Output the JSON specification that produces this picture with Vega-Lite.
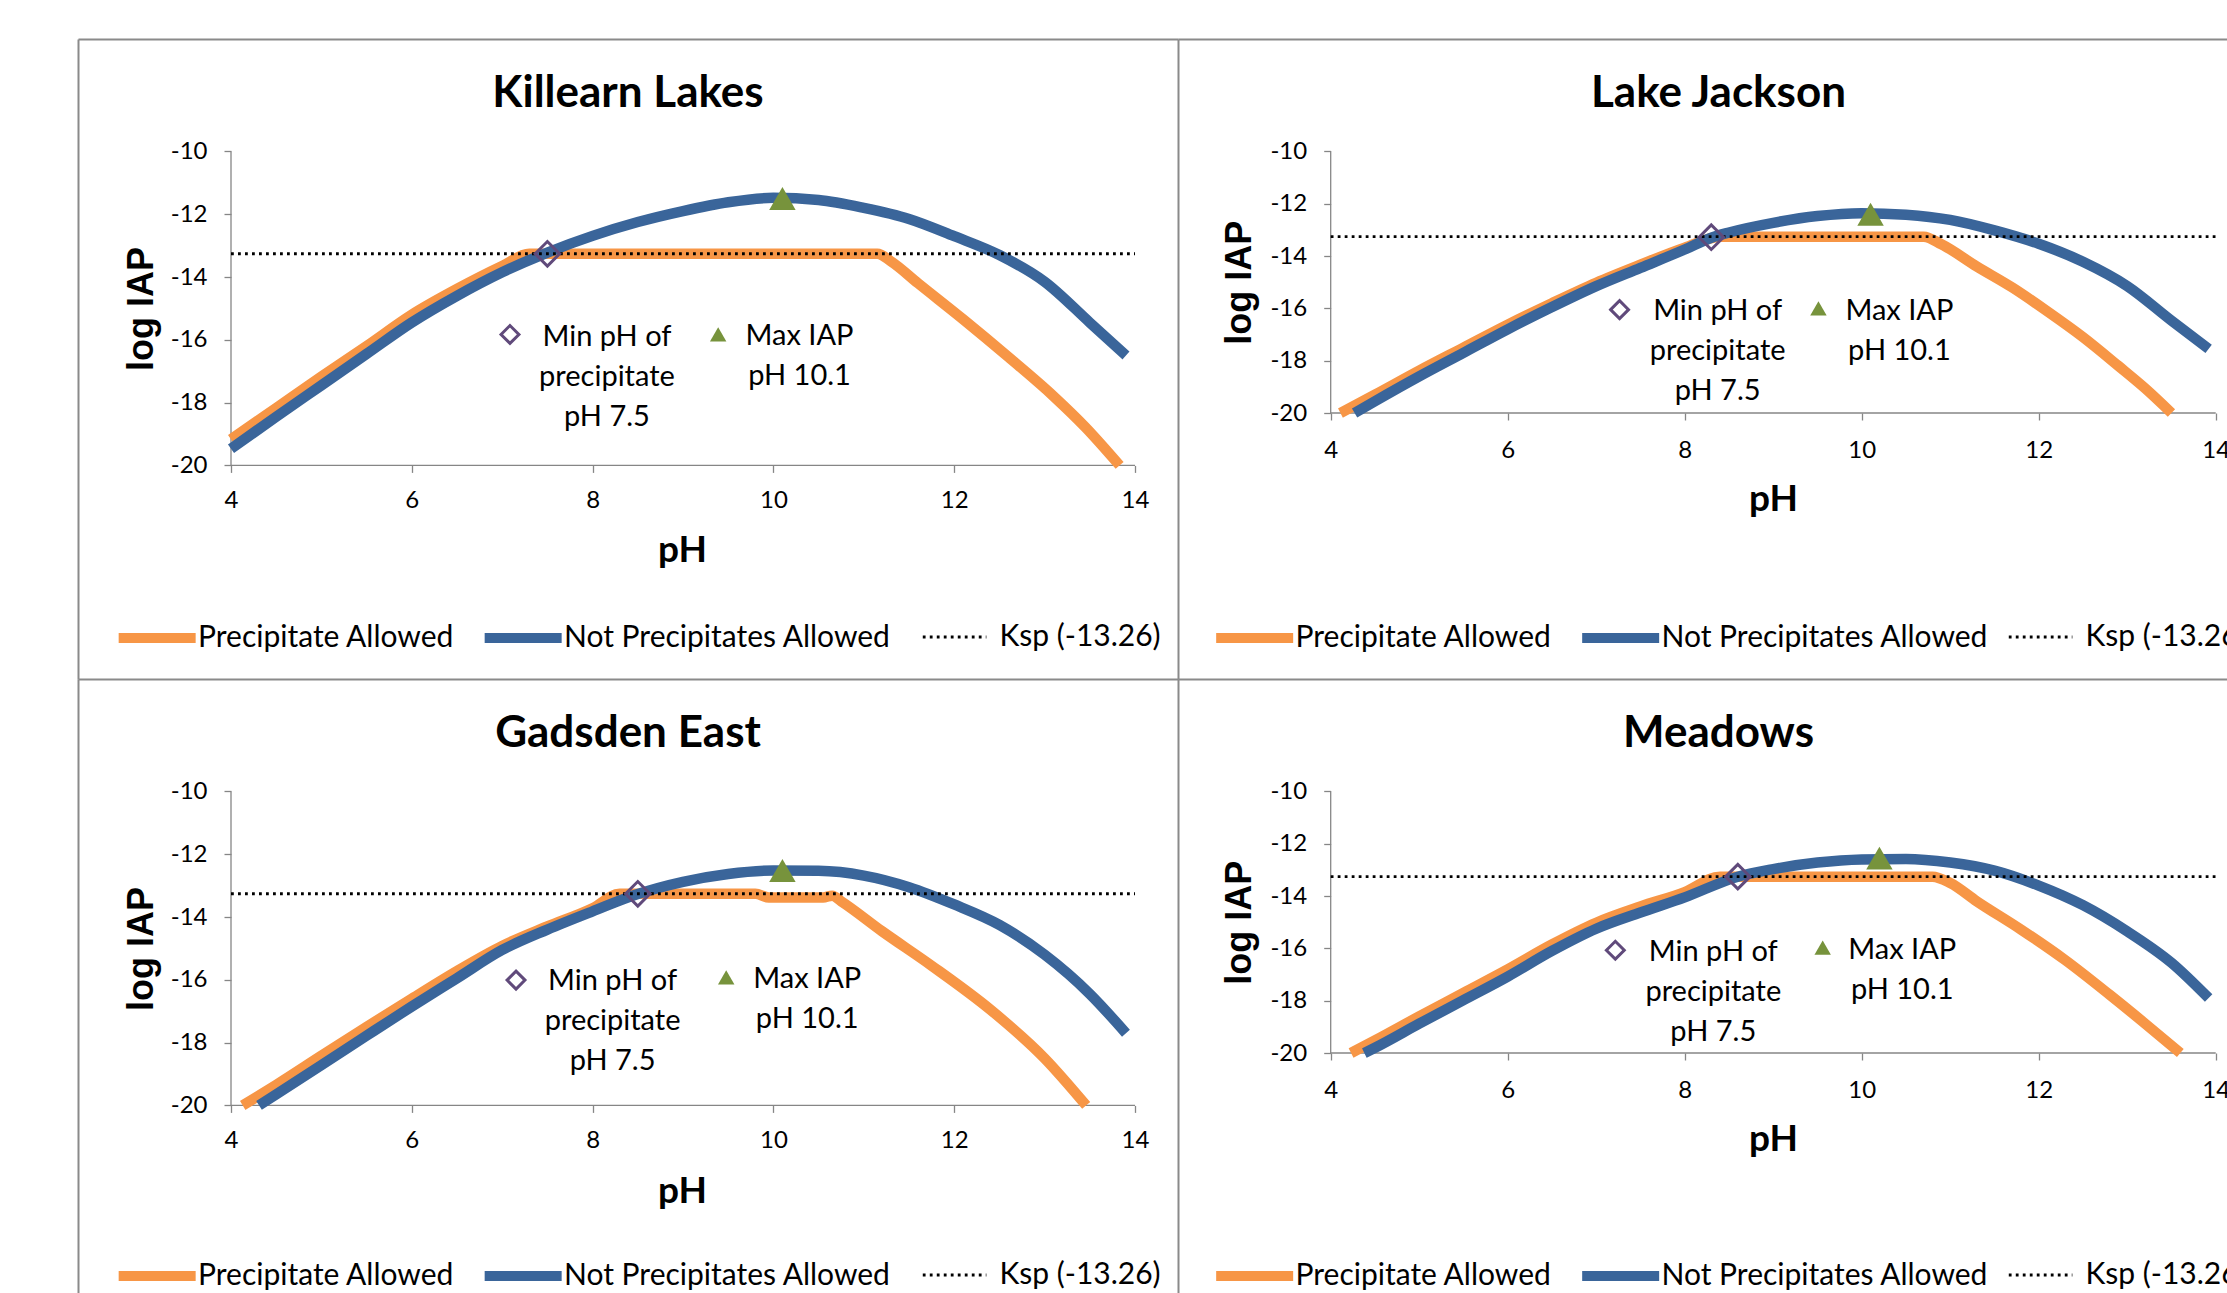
{
  "$schema": "https://vega.github.io/schema/vega-lite/v6.json",
  "padding": {"left": 78, "top": 39, "right": 0, "bottom": 0},
  "background": "white",
  "config": {
    "view": {"stroke": null},
    "font": "Lato",
    "title": {"font": "Lato", "fontSize": 44, "fontWeight": "bold", "color": "#000000", "anchor": "middle", "frame": "group", "baseline": "alphabetic", "offset": -77},
    "axis": {"grid": false, "domain": false, "labelFont": "Lato", "labelFontSize": 24, "labelColor": "#000000", "tickColor": "#868686", "tickSize": 7, "tickWidth": 1.3, "titleFont": "Lato", "titleFontSize": 37, "titleFontWeight": "bold", "titleColor": "#000000", "labelFlush": false, "labelOverlap": false},
    "axisY": {"titleFont": "Liberation Sans", "titleFontSize": 36},
    "legend": {"orient": "none", "direction": "horizontal", "labelFont": "Lato", "labelFontSize": 30, "labelColor": "#000000", "labelLimit": 600, "symbolType": "M-1,0H5", "symbolSize": 658.6, "symbolStrokeWidth": 10, "columnPadding": 10, "labelOffset": 48.5, "padding": 0}
  },
  "datasets": {
    "axisLines": [
      {"pH": 4, "pH2": 14, "logIAP": -20, "logIAP2": -20},
      {"pH": 4, "pH2": 4, "logIAP": -20, "logIAP2": -10}
    ],
    "ksp": [
      {"series": "Ksp (-13.26)", "pH": 4, "logIAP": -13.26},
      {"series": "Ksp (-13.26)", "pH": 14, "logIAP": -13.26}
    ],
    "markers": [
      {"lake": "Killearn Lakes", "marker": "Min pH of precipitate", "pH": 7.5, "logIAP": -13.26},
      {"lake": "Killearn Lakes", "marker": "Max IAP", "pH": 10.1, "logIAP": -11.5},
      {"lake": "Lake Jackson", "marker": "Min pH of precipitate", "pH": 8.3, "logIAP": -13.28},
      {"lake": "Lake Jackson", "marker": "Max IAP", "pH": 10.1, "logIAP": -12.4},
      {"lake": "Gadsden East", "marker": "Min pH of precipitate", "pH": 8.5, "logIAP": -13.26},
      {"lake": "Gadsden East", "marker": "Max IAP", "pH": 10.1, "logIAP": -12.52},
      {"lake": "Meadows", "marker": "Min pH of precipitate", "pH": 8.6, "logIAP": -13.26},
      {"lake": "Meadows", "marker": "Max IAP", "pH": 10.2, "logIAP": -12.55}
    ],
    "keys": [
      {"lake": "Killearn Lakes", "marker": "Min pH of precipitate", "symbolPH": 7.086, "symbolLogIAP": -15.83, "textPH": 8.159, "textLogIAP": -16.19, "label": "Min pH of\nprecipitate\npH 7.5"},
      {"lake": "Killearn Lakes", "marker": "Max IAP", "symbolPH": 9.389, "symbolLogIAP": -15.83, "textPH": 10.289, "textLogIAP": -16.16, "label": "Max IAP\npH 10.1"},
      {"lake": "Lake Jackson", "marker": "Min pH of precipitate", "symbolPH": 7.264, "symbolLogIAP": -16.05, "textPH": 8.372, "textLogIAP": -16.45, "label": "Min pH of\nprecipitate\npH 7.5"},
      {"lake": "Lake Jackson", "marker": "Max IAP", "symbolPH": 9.511, "symbolLogIAP": -16.0, "textPH": 10.426, "textLogIAP": -16.45, "label": "Max IAP\npH 10.1"},
      {"lake": "Gadsden East", "marker": "Min pH of precipitate", "symbolPH": 7.153, "symbolLogIAP": -16.01, "textPH": 8.221, "textLogIAP": -16.34, "label": "Min pH of\nprecipitate\npH 7.5"},
      {"lake": "Gadsden East", "marker": "Max IAP", "symbolPH": 9.478, "symbolLogIAP": -15.92, "textPH": 10.374, "textLogIAP": -16.25, "label": "Max IAP\npH 10.1"},
      {"lake": "Meadows", "marker": "Min pH of precipitate", "symbolPH": 7.216, "symbolLogIAP": -16.07, "textPH": 8.323, "textLogIAP": -16.47, "label": "Min pH of\nprecipitate\npH 7.5"},
      {"lake": "Meadows", "marker": "Max IAP", "symbolPH": 9.559, "symbolLogIAP": -15.97, "textPH": 10.458, "textLogIAP": -16.42, "label": "Max IAP\npH 10.1"}
    ],
    "curves": [
      {"lake": "Killearn Lakes", "series": "Precipitate Allowed", "pH": 4.0, "logIAP": -19.17},
      {"lake": "Killearn Lakes", "series": "Precipitate Allowed", "pH": 4.5, "logIAP": -18.17},
      {"lake": "Killearn Lakes", "series": "Precipitate Allowed", "pH": 5.0, "logIAP": -17.17},
      {"lake": "Killearn Lakes", "series": "Precipitate Allowed", "pH": 5.5, "logIAP": -16.2},
      {"lake": "Killearn Lakes", "series": "Precipitate Allowed", "pH": 6.0, "logIAP": -15.2},
      {"lake": "Killearn Lakes", "series": "Precipitate Allowed", "pH": 6.5, "logIAP": -14.38},
      {"lake": "Killearn Lakes", "series": "Precipitate Allowed", "pH": 7.0, "logIAP": -13.65},
      {"lake": "Killearn Lakes", "series": "Precipitate Allowed", "pH": 7.3, "logIAP": -13.26},
      {"lake": "Killearn Lakes", "series": "Precipitate Allowed", "pH": 11.15, "logIAP": -13.26},
      {"lake": "Killearn Lakes", "series": "Precipitate Allowed", "pH": 11.3, "logIAP": -13.5},
      {"lake": "Killearn Lakes", "series": "Precipitate Allowed", "pH": 11.6, "logIAP": -14.2},
      {"lake": "Killearn Lakes", "series": "Precipitate Allowed", "pH": 12.1, "logIAP": -15.35},
      {"lake": "Killearn Lakes", "series": "Precipitate Allowed", "pH": 12.6, "logIAP": -16.55},
      {"lake": "Killearn Lakes", "series": "Precipitate Allowed", "pH": 13.1, "logIAP": -17.8},
      {"lake": "Killearn Lakes", "series": "Precipitate Allowed", "pH": 13.45, "logIAP": -18.78},
      {"lake": "Killearn Lakes", "series": "Precipitate Allowed", "pH": 13.83, "logIAP": -20},
      {"lake": "Killearn Lakes", "series": "Not Precipitates Allowed", "pH": 4.0, "logIAP": -19.47},
      {"lake": "Killearn Lakes", "series": "Not Precipitates Allowed", "pH": 4.5, "logIAP": -18.45},
      {"lake": "Killearn Lakes", "series": "Not Precipitates Allowed", "pH": 5.0, "logIAP": -17.45},
      {"lake": "Killearn Lakes", "series": "Not Precipitates Allowed", "pH": 5.5, "logIAP": -16.45},
      {"lake": "Killearn Lakes", "series": "Not Precipitates Allowed", "pH": 6.0, "logIAP": -15.45},
      {"lake": "Killearn Lakes", "series": "Not Precipitates Allowed", "pH": 6.5, "logIAP": -14.6},
      {"lake": "Killearn Lakes", "series": "Not Precipitates Allowed", "pH": 7.0, "logIAP": -13.85},
      {"lake": "Killearn Lakes", "series": "Not Precipitates Allowed", "pH": 7.5, "logIAP": -13.22},
      {"lake": "Killearn Lakes", "series": "Not Precipitates Allowed", "pH": 8.0, "logIAP": -12.69},
      {"lake": "Killearn Lakes", "series": "Not Precipitates Allowed", "pH": 8.5, "logIAP": -12.25},
      {"lake": "Killearn Lakes", "series": "Not Precipitates Allowed", "pH": 9.0, "logIAP": -11.9},
      {"lake": "Killearn Lakes", "series": "Not Precipitates Allowed", "pH": 9.5, "logIAP": -11.62},
      {"lake": "Killearn Lakes", "series": "Not Precipitates Allowed", "pH": 10.0, "logIAP": -11.48},
      {"lake": "Killearn Lakes", "series": "Not Precipitates Allowed", "pH": 10.5, "logIAP": -11.55},
      {"lake": "Killearn Lakes", "series": "Not Precipitates Allowed", "pH": 11.0, "logIAP": -11.8},
      {"lake": "Killearn Lakes", "series": "Not Precipitates Allowed", "pH": 11.5, "logIAP": -12.15},
      {"lake": "Killearn Lakes", "series": "Not Precipitates Allowed", "pH": 12.0, "logIAP": -12.7},
      {"lake": "Killearn Lakes", "series": "Not Precipitates Allowed", "pH": 12.5, "logIAP": -13.3},
      {"lake": "Killearn Lakes", "series": "Not Precipitates Allowed", "pH": 13.0, "logIAP": -14.15},
      {"lake": "Killearn Lakes", "series": "Not Precipitates Allowed", "pH": 13.5, "logIAP": -15.45},
      {"lake": "Killearn Lakes", "series": "Not Precipitates Allowed", "pH": 13.9, "logIAP": -16.5},
      {"lake": "Lake Jackson", "series": "Precipitate Allowed", "pH": 4.11, "logIAP": -20},
      {"lake": "Lake Jackson", "series": "Precipitate Allowed", "pH": 4.5, "logIAP": -19.3},
      {"lake": "Lake Jackson", "series": "Precipitate Allowed", "pH": 5.0, "logIAP": -18.38},
      {"lake": "Lake Jackson", "series": "Precipitate Allowed", "pH": 5.5, "logIAP": -17.5},
      {"lake": "Lake Jackson", "series": "Precipitate Allowed", "pH": 6.0, "logIAP": -16.62},
      {"lake": "Lake Jackson", "series": "Precipitate Allowed", "pH": 6.5, "logIAP": -15.8},
      {"lake": "Lake Jackson", "series": "Precipitate Allowed", "pH": 7.0, "logIAP": -15.02},
      {"lake": "Lake Jackson", "series": "Precipitate Allowed", "pH": 7.5, "logIAP": -14.33},
      {"lake": "Lake Jackson", "series": "Precipitate Allowed", "pH": 8.0, "logIAP": -13.68},
      {"lake": "Lake Jackson", "series": "Precipitate Allowed", "pH": 8.4, "logIAP": -13.26},
      {"lake": "Lake Jackson", "series": "Precipitate Allowed", "pH": 10.7, "logIAP": -13.26},
      {"lake": "Lake Jackson", "series": "Precipitate Allowed", "pH": 10.9, "logIAP": -13.55},
      {"lake": "Lake Jackson", "series": "Precipitate Allowed", "pH": 11.3, "logIAP": -14.4},
      {"lake": "Lake Jackson", "series": "Precipitate Allowed", "pH": 11.7, "logIAP": -15.2},
      {"lake": "Lake Jackson", "series": "Precipitate Allowed", "pH": 12.1, "logIAP": -16.12},
      {"lake": "Lake Jackson", "series": "Precipitate Allowed", "pH": 12.5, "logIAP": -17.1},
      {"lake": "Lake Jackson", "series": "Precipitate Allowed", "pH": 12.9, "logIAP": -18.2},
      {"lake": "Lake Jackson", "series": "Precipitate Allowed", "pH": 13.2, "logIAP": -19.05},
      {"lake": "Lake Jackson", "series": "Precipitate Allowed", "pH": 13.5, "logIAP": -20},
      {"lake": "Lake Jackson", "series": "Not Precipitates Allowed", "pH": 4.27, "logIAP": -20},
      {"lake": "Lake Jackson", "series": "Not Precipitates Allowed", "pH": 4.5, "logIAP": -19.55},
      {"lake": "Lake Jackson", "series": "Not Precipitates Allowed", "pH": 5.0, "logIAP": -18.6},
      {"lake": "Lake Jackson", "series": "Not Precipitates Allowed", "pH": 5.5, "logIAP": -17.7},
      {"lake": "Lake Jackson", "series": "Not Precipitates Allowed", "pH": 6.0, "logIAP": -16.8},
      {"lake": "Lake Jackson", "series": "Not Precipitates Allowed", "pH": 6.5, "logIAP": -15.95},
      {"lake": "Lake Jackson", "series": "Not Precipitates Allowed", "pH": 7.0, "logIAP": -15.15},
      {"lake": "Lake Jackson", "series": "Not Precipitates Allowed", "pH": 7.5, "logIAP": -14.45},
      {"lake": "Lake Jackson", "series": "Not Precipitates Allowed", "pH": 8.0, "logIAP": -13.75},
      {"lake": "Lake Jackson", "series": "Not Precipitates Allowed", "pH": 8.3, "logIAP": -13.3},
      {"lake": "Lake Jackson", "series": "Not Precipitates Allowed", "pH": 8.5, "logIAP": -13.1},
      {"lake": "Lake Jackson", "series": "Not Precipitates Allowed", "pH": 9.0, "logIAP": -12.73},
      {"lake": "Lake Jackson", "series": "Not Precipitates Allowed", "pH": 9.5, "logIAP": -12.47},
      {"lake": "Lake Jackson", "series": "Not Precipitates Allowed", "pH": 10.0, "logIAP": -12.36},
      {"lake": "Lake Jackson", "series": "Not Precipitates Allowed", "pH": 10.5, "logIAP": -12.42},
      {"lake": "Lake Jackson", "series": "Not Precipitates Allowed", "pH": 11.0, "logIAP": -12.62},
      {"lake": "Lake Jackson", "series": "Not Precipitates Allowed", "pH": 11.5, "logIAP": -13.02},
      {"lake": "Lake Jackson", "series": "Not Precipitates Allowed", "pH": 12.0, "logIAP": -13.53},
      {"lake": "Lake Jackson", "series": "Not Precipitates Allowed", "pH": 12.5, "logIAP": -14.22},
      {"lake": "Lake Jackson", "series": "Not Precipitates Allowed", "pH": 13.0, "logIAP": -15.15},
      {"lake": "Lake Jackson", "series": "Not Precipitates Allowed", "pH": 13.5, "logIAP": -16.47},
      {"lake": "Lake Jackson", "series": "Not Precipitates Allowed", "pH": 13.92, "logIAP": -17.55},
      {"lake": "Gadsden East", "series": "Precipitate Allowed", "pH": 4.13, "logIAP": -20},
      {"lake": "Gadsden East", "series": "Precipitate Allowed", "pH": 4.5, "logIAP": -19.35},
      {"lake": "Gadsden East", "series": "Precipitate Allowed", "pH": 5.0, "logIAP": -18.42},
      {"lake": "Gadsden East", "series": "Precipitate Allowed", "pH": 5.5, "logIAP": -17.5},
      {"lake": "Gadsden East", "series": "Precipitate Allowed", "pH": 6.0, "logIAP": -16.6},
      {"lake": "Gadsden East", "series": "Precipitate Allowed", "pH": 6.5, "logIAP": -15.72},
      {"lake": "Gadsden East", "series": "Precipitate Allowed", "pH": 7.0, "logIAP": -14.92},
      {"lake": "Gadsden East", "series": "Precipitate Allowed", "pH": 7.5, "logIAP": -14.3},
      {"lake": "Gadsden East", "series": "Precipitate Allowed", "pH": 8.0, "logIAP": -13.72},
      {"lake": "Gadsden East", "series": "Precipitate Allowed", "pH": 8.3, "logIAP": -13.26},
      {"lake": "Gadsden East", "series": "Precipitate Allowed", "pH": 9.8, "logIAP": -13.26},
      {"lake": "Gadsden East", "series": "Precipitate Allowed", "pH": 9.95, "logIAP": -13.38},
      {"lake": "Gadsden East", "series": "Precipitate Allowed", "pH": 10.55, "logIAP": -13.38},
      {"lake": "Gadsden East", "series": "Precipitate Allowed", "pH": 10.65, "logIAP": -13.32},
      {"lake": "Gadsden East", "series": "Precipitate Allowed", "pH": 10.75, "logIAP": -13.5},
      {"lake": "Gadsden East", "series": "Precipitate Allowed", "pH": 11.2, "logIAP": -14.45},
      {"lake": "Gadsden East", "series": "Precipitate Allowed", "pH": 11.75, "logIAP": -15.55},
      {"lake": "Gadsden East", "series": "Precipitate Allowed", "pH": 12.4, "logIAP": -16.95},
      {"lake": "Gadsden East", "series": "Precipitate Allowed", "pH": 13.0, "logIAP": -18.5},
      {"lake": "Gadsden East", "series": "Precipitate Allowed", "pH": 13.46, "logIAP": -20},
      {"lake": "Gadsden East", "series": "Not Precipitates Allowed", "pH": 4.31, "logIAP": -20},
      {"lake": "Gadsden East", "series": "Not Precipitates Allowed", "pH": 4.5, "logIAP": -19.65},
      {"lake": "Gadsden East", "series": "Not Precipitates Allowed", "pH": 5.0, "logIAP": -18.72},
      {"lake": "Gadsden East", "series": "Not Precipitates Allowed", "pH": 5.5, "logIAP": -17.78},
      {"lake": "Gadsden East", "series": "Not Precipitates Allowed", "pH": 6.0, "logIAP": -16.85},
      {"lake": "Gadsden East", "series": "Not Precipitates Allowed", "pH": 6.5, "logIAP": -15.95},
      {"lake": "Gadsden East", "series": "Not Precipitates Allowed", "pH": 7.0, "logIAP": -15.05},
      {"lake": "Gadsden East", "series": "Not Precipitates Allowed", "pH": 7.5, "logIAP": -14.4},
      {"lake": "Gadsden East", "series": "Not Precipitates Allowed", "pH": 8.0, "logIAP": -13.82},
      {"lake": "Gadsden East", "series": "Not Precipitates Allowed", "pH": 8.5, "logIAP": -13.27},
      {"lake": "Gadsden East", "series": "Not Precipitates Allowed", "pH": 9.0, "logIAP": -12.88},
      {"lake": "Gadsden East", "series": "Not Precipitates Allowed", "pH": 9.5, "logIAP": -12.63},
      {"lake": "Gadsden East", "series": "Not Precipitates Allowed", "pH": 10.0, "logIAP": -12.52},
      {"lake": "Gadsden East", "series": "Not Precipitates Allowed", "pH": 10.5, "logIAP": -12.53},
      {"lake": "Gadsden East", "series": "Not Precipitates Allowed", "pH": 11.0, "logIAP": -12.68},
      {"lake": "Gadsden East", "series": "Not Precipitates Allowed", "pH": 11.5, "logIAP": -13.05},
      {"lake": "Gadsden East", "series": "Not Precipitates Allowed", "pH": 12.0, "logIAP": -13.6},
      {"lake": "Gadsden East", "series": "Not Precipitates Allowed", "pH": 12.5, "logIAP": -14.25},
      {"lake": "Gadsden East", "series": "Not Precipitates Allowed", "pH": 13.0, "logIAP": -15.2},
      {"lake": "Gadsden East", "series": "Not Precipitates Allowed", "pH": 13.5, "logIAP": -16.45},
      {"lake": "Gadsden East", "series": "Not Precipitates Allowed", "pH": 13.9, "logIAP": -17.7},
      {"lake": "Meadows", "series": "Precipitate Allowed", "pH": 4.23, "logIAP": -20},
      {"lake": "Meadows", "series": "Precipitate Allowed", "pH": 4.5, "logIAP": -19.52},
      {"lake": "Meadows", "series": "Precipitate Allowed", "pH": 5.0, "logIAP": -18.6},
      {"lake": "Meadows", "series": "Precipitate Allowed", "pH": 5.5, "logIAP": -17.7},
      {"lake": "Meadows", "series": "Precipitate Allowed", "pH": 6.0, "logIAP": -16.8},
      {"lake": "Meadows", "series": "Precipitate Allowed", "pH": 6.5, "logIAP": -15.85},
      {"lake": "Meadows", "series": "Precipitate Allowed", "pH": 7.0, "logIAP": -15.02},
      {"lake": "Meadows", "series": "Precipitate Allowed", "pH": 7.5, "logIAP": -14.4},
      {"lake": "Meadows", "series": "Precipitate Allowed", "pH": 8.0, "logIAP": -13.85},
      {"lake": "Meadows", "series": "Precipitate Allowed", "pH": 8.4, "logIAP": -13.26},
      {"lake": "Meadows", "series": "Precipitate Allowed", "pH": 10.8, "logIAP": -13.26},
      {"lake": "Meadows", "series": "Precipitate Allowed", "pH": 11.0, "logIAP": -13.5},
      {"lake": "Meadows", "series": "Precipitate Allowed", "pH": 11.3, "logIAP": -14.2},
      {"lake": "Meadows", "series": "Precipitate Allowed", "pH": 11.8, "logIAP": -15.28},
      {"lake": "Meadows", "series": "Precipitate Allowed", "pH": 12.3, "logIAP": -16.45},
      {"lake": "Meadows", "series": "Precipitate Allowed", "pH": 12.8, "logIAP": -17.77},
      {"lake": "Meadows", "series": "Precipitate Allowed", "pH": 13.2, "logIAP": -18.87},
      {"lake": "Meadows", "series": "Precipitate Allowed", "pH": 13.6, "logIAP": -20},
      {"lake": "Meadows", "series": "Not Precipitates Allowed", "pH": 4.38, "logIAP": -20},
      {"lake": "Meadows", "series": "Not Precipitates Allowed", "pH": 4.5, "logIAP": -19.8},
      {"lake": "Meadows", "series": "Not Precipitates Allowed", "pH": 5.0, "logIAP": -18.88},
      {"lake": "Meadows", "series": "Not Precipitates Allowed", "pH": 5.5, "logIAP": -17.98},
      {"lake": "Meadows", "series": "Not Precipitates Allowed", "pH": 6.0, "logIAP": -17.08},
      {"lake": "Meadows", "series": "Not Precipitates Allowed", "pH": 6.5, "logIAP": -16.1},
      {"lake": "Meadows", "series": "Not Precipitates Allowed", "pH": 7.0, "logIAP": -15.25},
      {"lake": "Meadows", "series": "Not Precipitates Allowed", "pH": 7.5, "logIAP": -14.63},
      {"lake": "Meadows", "series": "Not Precipitates Allowed", "pH": 8.0, "logIAP": -14.05},
      {"lake": "Meadows", "series": "Not Precipitates Allowed", "pH": 8.6, "logIAP": -13.26},
      {"lake": "Meadows", "series": "Not Precipitates Allowed", "pH": 9.0, "logIAP": -12.97},
      {"lake": "Meadows", "series": "Not Precipitates Allowed", "pH": 9.5, "logIAP": -12.72},
      {"lake": "Meadows", "series": "Not Precipitates Allowed", "pH": 10.0, "logIAP": -12.6},
      {"lake": "Meadows", "series": "Not Precipitates Allowed", "pH": 10.5, "logIAP": -12.58},
      {"lake": "Meadows", "series": "Not Precipitates Allowed", "pH": 11.0, "logIAP": -12.72},
      {"lake": "Meadows", "series": "Not Precipitates Allowed", "pH": 11.5, "logIAP": -13.03},
      {"lake": "Meadows", "series": "Not Precipitates Allowed", "pH": 12.0, "logIAP": -13.6},
      {"lake": "Meadows", "series": "Not Precipitates Allowed", "pH": 12.5, "logIAP": -14.35},
      {"lake": "Meadows", "series": "Not Precipitates Allowed", "pH": 13.0, "logIAP": -15.35},
      {"lake": "Meadows", "series": "Not Precipitates Allowed", "pH": 13.5, "logIAP": -16.55},
      {"lake": "Meadows", "series": "Not Precipitates Allowed", "pH": 13.92, "logIAP": -17.9}
    ]
  },
  "columns": 2,
  "spacing": 0,
  "align": "each",
  "bounds": "flush",
  "resolve": {"scale": {"color": "independent", "strokeDash": "independent"}},
  "concat": [
    {
      "width": 1100, "height": 640,
      "title": {"text": "Killearn Lakes"},
      "layer": [
        {
          "data": {"name": "axisLines"},
          "mark": {"type": "rule", "color": "#868686", "strokeWidth": 1.3},
          "encoding": {
            "x": {"field": "pH", "type": "quantitative", "scale": {"domain": [2.3075, 14.4757], "nice": false, "zero": false}, "axis": {"orient": "top", "domain": true, "domainColor": "#8a8a8a", "domainWidth": 2, "ticks": false, "labels": false, "title": null}},
            "x2": {"field": "pH2"},
            "y": {"field": "logIAP", "type": "quantitative", "scale": {"domain": [-26.8025, -6.4204], "nice": false, "zero": false}, "axis": {"orient": "left", "domain": true, "domainColor": "#8a8a8a", "domainWidth": 2, "ticks": false, "labels": false, "title": null}},
            "y2": {"field": "logIAP2"}
          }
        },
        {
          "layer": [
            {
              "data": {"name": "curves"},
              "transform": [{"filter": "datum.lake == 'Killearn Lakes' && datum.series == 'Precipitate Allowed'"}],
              "mark": {"type": "line", "interpolate": "monotone", "strokeJoin": "round", "strokeWidth": 10.5},
              "encoding": {
                "x": {"field": "pH", "type": "quantitative", "scale": {"domain": [2.3075, 14.4757], "nice": false, "zero": false}, "axis": {"orient": "bottom", "offset": -213.6, "values": [4, 6, 8, 10, 12, 14], "labelExpr": "'' + datum.value", "labelPadding": 16, "title": "pH", "titleX": 604, "titleY": 85, "titleBaseline": "middle", "titleAlign": "center"}},
                "y": {"field": "logIAP", "type": "quantitative", "scale": {"domain": [-26.8025, -6.4204], "nice": false, "zero": false}, "axis": {"orient": "left", "offset": -153, "values": [-20, -18, -16, -14, -12, -10], "labelExpr": "'' + datum.value", "labelPadding": 17, "title": "log IAP", "titleX": -90, "titleY": 269.4, "titleBaseline": "middle", "titleAlign": "center", "titleAngle": 270}},
                "color": {"field": "series", "type": "nominal", "scale": {"domain": ["Precipitate Allowed", "Not Precipitates Allowed"], "range": ["#F79646", "#3A659A"]}, "legend": {"title": null, "legendX": 35.5, "legendY": 581}}
              }
            },
            {
              "data": {"name": "curves"},
              "transform": [{"filter": "datum.lake == 'Killearn Lakes' && datum.series == 'Not Precipitates Allowed'"}],
              "mark": {"type": "line", "interpolate": "monotone", "strokeJoin": "round", "strokeWidth": 10.5},
              "encoding": {
                "x": {"field": "pH", "type": "quantitative"},
                "y": {"field": "logIAP", "type": "quantitative"},
                "color": {"field": "series", "type": "nominal"}
              }
            },
            {
              "data": {"name": "ksp"},
              "mark": {"type": "line", "color": "#000000", "strokeWidth": 2.8},
              "encoding": {
                "x": {"field": "pH", "type": "quantitative"},
                "y": {"field": "logIAP", "type": "quantitative"},
                "strokeDash": {"field": "series", "type": "nominal", "scale": {"domain": ["Ksp (-13.26)"], "range": [[2.8, 4.2]]}, "legend": {"title": null, "legendX": 842.5, "legendY": 583, "symbolType": "M-1,0H4", "symbolSize": 647, "symbolStrokeWidth": 2.8, "symbolStrokeColor": "#000000", "labelOffset": 49}}
              }
            },
            {
              "data": {"name": "markers"},
              "transform": [{"filter": "datum.lake == 'Killearn Lakes' && datum.marker == 'Min pH of precipitate'"}],
              "mark": {"type": "point", "shape": "diamond", "size": 600, "filled": false, "stroke": "#604A7B", "strokeWidth": 3, "opacity": 1},
              "encoding": {"x": {"field": "pH", "type": "quantitative"}, "y": {"field": "logIAP", "type": "quantitative"}}
            },
            {
              "data": {"name": "markers"},
              "transform": [{"filter": "datum.lake == 'Killearn Lakes' && datum.marker == 'Max IAP'"}],
              "mark": {"type": "point", "shape": "triangle-up", "size": 700, "filled": true, "color": "#77933C", "opacity": 1},
              "encoding": {"x": {"field": "pH", "type": "quantitative"}, "y": {"field": "logIAP", "type": "quantitative"}}
            },
            {
              "data": {"name": "keys"},
              "transform": [{"filter": "datum.lake == 'Killearn Lakes' && datum.marker == 'Min pH of precipitate'"}],
              "mark": {"type": "point", "shape": "diamond", "size": 320, "filled": false, "stroke": "#604A7B", "strokeWidth": 3, "opacity": 1},
              "encoding": {"x": {"field": "symbolPH", "type": "quantitative"}, "y": {"field": "symbolLogIAP", "type": "quantitative"}}
            },
            {
              "data": {"name": "keys"},
              "transform": [{"filter": "datum.lake == 'Killearn Lakes' && datum.marker == 'Max IAP'"}],
              "mark": {"type": "point", "shape": "triangle-up", "size": 270, "filled": true, "color": "#77933C", "opacity": 1},
              "encoding": {"x": {"field": "symbolPH", "type": "quantitative"}, "y": {"field": "symbolLogIAP", "type": "quantitative"}}
            },
            {
              "data": {"name": "keys"},
              "transform": [{"filter": "datum.lake == 'Killearn Lakes'"}],
              "mark": {"type": "text", "align": "center", "baseline": "alphabetic", "lineBreak": "\n", "lineHeight": 40, "font": "Lato", "fontSize": 29, "color": "#000000"},
              "encoding": {"x": {"field": "textPH", "type": "quantitative"}, "y": {"field": "textLogIAP", "type": "quantitative"}, "text": {"field": "label"}}
            }
          ]
        }
      ],
      "resolve": {"axis": {"x": "independent", "y": "independent"}}
    },
    {
      "width": 1081, "height": 640,
      "title": {"text": "Lake Jackson"},
      "layer": [
        {
          "data": {"name": "axisLines"},
          "mark": {"type": "rule", "color": "#868686", "strokeWidth": 1.3},
          "encoding": {
            "x": {"field": "pH", "type": "quantitative", "scale": {"domain": [2.2746, 14.489], "nice": false, "zero": false}, "axis": {"orient": "top", "domain": true, "domainColor": "#8a8a8a", "domainWidth": 2, "ticks": false, "labels": false, "title": null}},
            "x2": {"field": "pH2"},
            "y": {"field": "logIAP", "type": "quantitative", "scale": {"domain": [-30.168, -5.7034], "nice": false, "zero": false}, "axis": {"orient": "left", "domain": true, "domainColor": "#8a8a8a", "domainWidth": 2, "ticks": false, "labels": false, "title": null}},
            "y2": {"field": "logIAP2"}
          }
        },
        {
          "layer": [
            {
              "data": {"name": "curves"},
              "transform": [{"filter": "datum.lake == 'Lake Jackson' && datum.series == 'Precipitate Allowed'"}],
              "mark": {"type": "line", "interpolate": "monotone", "strokeJoin": "round", "strokeWidth": 10.5},
              "encoding": {
                "x": {"field": "pH", "type": "quantitative", "scale": {"domain": [2.2746, 14.489], "nice": false, "zero": false}, "axis": {"orient": "bottom", "offset": -266, "values": [4, 6, 8, 10, 12, 14], "labelExpr": "'' + datum.value", "labelPadding": 18, "title": "pH", "titleX": 595, "titleY": 86, "titleBaseline": "middle", "titleAlign": "center"}},
                "y": {"field": "logIAP", "type": "quantitative", "scale": {"domain": [-30.168, -5.7034], "nice": false, "zero": false}, "axis": {"orient": "left", "offset": -152.7, "values": [-20, -18, -16, -14, -12, -10], "labelExpr": "'' + datum.value", "labelPadding": 17, "title": "log IAP", "titleX": -91.7, "titleY": 243.2, "titleBaseline": "middle", "titleAlign": "center", "titleAngle": 270}},
                "color": {"field": "series", "type": "nominal", "scale": {"domain": ["Precipitate Allowed", "Not Precipitates Allowed"], "range": ["#F79646", "#3A659A"]}, "legend": {"title": null, "legendX": 33, "legendY": 581}}
              }
            },
            {
              "data": {"name": "curves"},
              "transform": [{"filter": "datum.lake == 'Lake Jackson' && datum.series == 'Not Precipitates Allowed'"}],
              "mark": {"type": "line", "interpolate": "monotone", "strokeJoin": "round", "strokeWidth": 10.5},
              "encoding": {
                "x": {"field": "pH", "type": "quantitative"},
                "y": {"field": "logIAP", "type": "quantitative"},
                "color": {"field": "series", "type": "nominal"}
              }
            },
            {
              "data": {"name": "ksp"},
              "mark": {"type": "line", "color": "#000000", "strokeWidth": 2.8},
              "encoding": {
                "x": {"field": "pH", "type": "quantitative"},
                "y": {"field": "logIAP", "type": "quantitative"},
                "strokeDash": {"field": "series", "type": "nominal", "scale": {"domain": ["Ksp (-13.26)"], "range": [[2.8, 4.2]]}, "legend": {"title": null, "legendX": 828.5, "legendY": 583, "symbolType": "M-1,0H4", "symbolSize": 647, "symbolStrokeWidth": 2.8, "symbolStrokeColor": "#000000", "labelOffset": 49}}
              }
            },
            {
              "data": {"name": "markers"},
              "transform": [{"filter": "datum.lake == 'Lake Jackson' && datum.marker == 'Min pH of precipitate'"}],
              "mark": {"type": "point", "shape": "diamond", "size": 600, "filled": false, "stroke": "#604A7B", "strokeWidth": 3, "opacity": 1},
              "encoding": {"x": {"field": "pH", "type": "quantitative"}, "y": {"field": "logIAP", "type": "quantitative"}}
            },
            {
              "data": {"name": "markers"},
              "transform": [{"filter": "datum.lake == 'Lake Jackson' && datum.marker == 'Max IAP'"}],
              "mark": {"type": "point", "shape": "triangle-up", "size": 700, "filled": true, "color": "#77933C", "opacity": 1},
              "encoding": {"x": {"field": "pH", "type": "quantitative"}, "y": {"field": "logIAP", "type": "quantitative"}}
            },
            {
              "data": {"name": "keys"},
              "transform": [{"filter": "datum.lake == 'Lake Jackson' && datum.marker == 'Min pH of precipitate'"}],
              "mark": {"type": "point", "shape": "diamond", "size": 320, "filled": false, "stroke": "#604A7B", "strokeWidth": 3, "opacity": 1},
              "encoding": {"x": {"field": "symbolPH", "type": "quantitative"}, "y": {"field": "symbolLogIAP", "type": "quantitative"}}
            },
            {
              "data": {"name": "keys"},
              "transform": [{"filter": "datum.lake == 'Lake Jackson' && datum.marker == 'Max IAP'"}],
              "mark": {"type": "point", "shape": "triangle-up", "size": 270, "filled": true, "color": "#77933C", "opacity": 1},
              "encoding": {"x": {"field": "symbolPH", "type": "quantitative"}, "y": {"field": "symbolLogIAP", "type": "quantitative"}}
            },
            {
              "data": {"name": "keys"},
              "transform": [{"filter": "datum.lake == 'Lake Jackson'"}],
              "mark": {"type": "text", "align": "center", "baseline": "alphabetic", "lineBreak": "\n", "lineHeight": 40, "font": "Lato", "fontSize": 29, "color": "#000000"},
              "encoding": {"x": {"field": "textPH", "type": "quantitative"}, "y": {"field": "textLogIAP", "type": "quantitative"}, "text": {"field": "label"}}
            }
          ]
        }
      ],
      "resolve": {"axis": {"x": "independent", "y": "independent"}}
    },
    {
      "width": 1100, "height": 640,
      "title": {"text": "Gadsden East"},
      "layer": [
        {
          "data": {"name": "axisLines"},
          "mark": {"type": "rule", "color": "#868686", "strokeWidth": 1.3},
          "encoding": {
            "x": {"field": "pH", "type": "quantitative", "scale": {"domain": [2.3075, 14.4757], "nice": false, "zero": false}, "axis": {"orient": "top", "domain": true, "domainColor": "#8a8a8a", "domainWidth": 2, "ticks": false, "labels": false, "title": null}},
            "x2": {"field": "pH2"},
            "y": {"field": "logIAP", "type": "quantitative", "scale": {"domain": [-26.8025, -6.4204], "nice": false, "zero": false}, "axis": {"orient": "left", "domain": true, "domainColor": "#8a8a8a", "domainWidth": 2, "ticks": false, "labels": false, "title": null}},
            "y2": {"field": "logIAP2"}
          }
        },
        {
          "layer": [
            {
              "data": {"name": "curves"},
              "transform": [{"filter": "datum.lake == 'Gadsden East' && datum.series == 'Precipitate Allowed'"}],
              "mark": {"type": "line", "interpolate": "monotone", "strokeJoin": "round", "strokeWidth": 10.5},
              "encoding": {
                "x": {"field": "pH", "type": "quantitative", "scale": {"domain": [2.3075, 14.4757], "nice": false, "zero": false}, "axis": {"orient": "bottom", "offset": -213.6, "values": [4, 6, 8, 10, 12, 14], "labelExpr": "'' + datum.value", "labelPadding": 16, "title": "pH", "titleX": 604, "titleY": 86, "titleBaseline": "middle", "titleAlign": "center"}},
                "y": {"field": "logIAP", "type": "quantitative", "scale": {"domain": [-26.8025, -6.4204], "nice": false, "zero": false}, "axis": {"orient": "left", "offset": -153, "values": [-20, -18, -16, -14, -12, -10], "labelExpr": "'' + datum.value", "labelPadding": 17, "title": "log IAP", "titleX": -90, "titleY": 269.4, "titleBaseline": "middle", "titleAlign": "center", "titleAngle": 270}},
                "color": {"field": "series", "type": "nominal", "scale": {"domain": ["Precipitate Allowed", "Not Precipitates Allowed"], "range": ["#F79646", "#3A659A"]}, "legend": {"title": null, "legendX": 35.5, "legendY": 579}}
              }
            },
            {
              "data": {"name": "curves"},
              "transform": [{"filter": "datum.lake == 'Gadsden East' && datum.series == 'Not Precipitates Allowed'"}],
              "mark": {"type": "line", "interpolate": "monotone", "strokeJoin": "round", "strokeWidth": 10.5},
              "encoding": {
                "x": {"field": "pH", "type": "quantitative"},
                "y": {"field": "logIAP", "type": "quantitative"},
                "color": {"field": "series", "type": "nominal"}
              }
            },
            {
              "data": {"name": "ksp"},
              "mark": {"type": "line", "color": "#000000", "strokeWidth": 2.8},
              "encoding": {
                "x": {"field": "pH", "type": "quantitative"},
                "y": {"field": "logIAP", "type": "quantitative"},
                "strokeDash": {"field": "series", "type": "nominal", "scale": {"domain": ["Ksp (-13.26)"], "range": [[2.8, 4.2]]}, "legend": {"title": null, "legendX": 842.5, "legendY": 581, "symbolType": "M-1,0H4", "symbolSize": 647, "symbolStrokeWidth": 2.8, "symbolStrokeColor": "#000000", "labelOffset": 49}}
              }
            },
            {
              "data": {"name": "markers"},
              "transform": [{"filter": "datum.lake == 'Gadsden East' && datum.marker == 'Min pH of precipitate'"}],
              "mark": {"type": "point", "shape": "diamond", "size": 600, "filled": false, "stroke": "#604A7B", "strokeWidth": 3, "opacity": 1},
              "encoding": {"x": {"field": "pH", "type": "quantitative"}, "y": {"field": "logIAP", "type": "quantitative"}}
            },
            {
              "data": {"name": "markers"},
              "transform": [{"filter": "datum.lake == 'Gadsden East' && datum.marker == 'Max IAP'"}],
              "mark": {"type": "point", "shape": "triangle-up", "size": 700, "filled": true, "color": "#77933C", "opacity": 1},
              "encoding": {"x": {"field": "pH", "type": "quantitative"}, "y": {"field": "logIAP", "type": "quantitative"}}
            },
            {
              "data": {"name": "keys"},
              "transform": [{"filter": "datum.lake == 'Gadsden East' && datum.marker == 'Min pH of precipitate'"}],
              "mark": {"type": "point", "shape": "diamond", "size": 320, "filled": false, "stroke": "#604A7B", "strokeWidth": 3, "opacity": 1},
              "encoding": {"x": {"field": "symbolPH", "type": "quantitative"}, "y": {"field": "symbolLogIAP", "type": "quantitative"}}
            },
            {
              "data": {"name": "keys"},
              "transform": [{"filter": "datum.lake == 'Gadsden East' && datum.marker == 'Max IAP'"}],
              "mark": {"type": "point", "shape": "triangle-up", "size": 270, "filled": true, "color": "#77933C", "opacity": 1},
              "encoding": {"x": {"field": "symbolPH", "type": "quantitative"}, "y": {"field": "symbolLogIAP", "type": "quantitative"}}
            },
            {
              "data": {"name": "keys"},
              "transform": [{"filter": "datum.lake == 'Gadsden East'"}],
              "mark": {"type": "text", "align": "center", "baseline": "alphabetic", "lineBreak": "\n", "lineHeight": 40, "font": "Lato", "fontSize": 29, "color": "#000000"},
              "encoding": {"x": {"field": "textPH", "type": "quantitative"}, "y": {"field": "textLogIAP", "type": "quantitative"}, "text": {"field": "label"}}
            }
          ]
        }
      ],
      "resolve": {"axis": {"x": "independent", "y": "independent"}}
    },
    {
      "width": 1081, "height": 640,
      "title": {"text": "Meadows"},
      "layer": [
        {
          "data": {"name": "axisLines"},
          "mark": {"type": "rule", "color": "#868686", "strokeWidth": 1.3},
          "encoding": {
            "x": {"field": "pH", "type": "quantitative", "scale": {"domain": [2.2746, 14.489], "nice": false, "zero": false}, "axis": {"orient": "top", "domain": true, "domainColor": "#8a8a8a", "domainWidth": 2, "ticks": false, "labels": false, "title": null}},
            "x2": {"field": "pH2"},
            "y": {"field": "logIAP", "type": "quantitative", "scale": {"domain": [-30.168, -5.7034], "nice": false, "zero": false}, "axis": {"orient": "left", "domain": true, "domainColor": "#8a8a8a", "domainWidth": 2, "ticks": false, "labels": false, "title": null}},
            "y2": {"field": "logIAP2"}
          }
        },
        {
          "layer": [
            {
              "data": {"name": "curves"},
              "transform": [{"filter": "datum.lake == 'Meadows' && datum.series == 'Precipitate Allowed'"}],
              "mark": {"type": "line", "interpolate": "monotone", "strokeJoin": "round", "strokeWidth": 10.5},
              "encoding": {
                "x": {"field": "pH", "type": "quantitative", "scale": {"domain": [2.2746, 14.489], "nice": false, "zero": false}, "axis": {"orient": "bottom", "offset": -266, "values": [4, 6, 8, 10, 12, 14], "labelExpr": "'' + datum.value", "labelPadding": 18, "title": "pH", "titleX": 595, "titleY": 86, "titleBaseline": "middle", "titleAlign": "center"}},
                "y": {"field": "logIAP", "type": "quantitative", "scale": {"domain": [-30.168, -5.7034], "nice": false, "zero": false}, "axis": {"orient": "left", "offset": -152.7, "values": [-20, -18, -16, -14, -12, -10], "labelExpr": "'' + datum.value", "labelPadding": 17, "title": "log IAP", "titleX": -91.7, "titleY": 243.2, "titleBaseline": "middle", "titleAlign": "center", "titleAngle": 270}},
                "color": {"field": "series", "type": "nominal", "scale": {"domain": ["Precipitate Allowed", "Not Precipitates Allowed"], "range": ["#F79646", "#3A659A"]}, "legend": {"title": null, "legendX": 33, "legendY": 579}}
              }
            },
            {
              "data": {"name": "curves"},
              "transform": [{"filter": "datum.lake == 'Meadows' && datum.series == 'Not Precipitates Allowed'"}],
              "mark": {"type": "line", "interpolate": "monotone", "strokeJoin": "round", "strokeWidth": 10.5},
              "encoding": {
                "x": {"field": "pH", "type": "quantitative"},
                "y": {"field": "logIAP", "type": "quantitative"},
                "color": {"field": "series", "type": "nominal"}
              }
            },
            {
              "data": {"name": "ksp"},
              "mark": {"type": "line", "color": "#000000", "strokeWidth": 2.8},
              "encoding": {
                "x": {"field": "pH", "type": "quantitative"},
                "y": {"field": "logIAP", "type": "quantitative"},
                "strokeDash": {"field": "series", "type": "nominal", "scale": {"domain": ["Ksp (-13.26)"], "range": [[2.8, 4.2]]}, "legend": {"title": null, "legendX": 828.5, "legendY": 581, "symbolType": "M-1,0H4", "symbolSize": 647, "symbolStrokeWidth": 2.8, "symbolStrokeColor": "#000000", "labelOffset": 49}}
              }
            },
            {
              "data": {"name": "markers"},
              "transform": [{"filter": "datum.lake == 'Meadows' && datum.marker == 'Min pH of precipitate'"}],
              "mark": {"type": "point", "shape": "diamond", "size": 600, "filled": false, "stroke": "#604A7B", "strokeWidth": 3, "opacity": 1},
              "encoding": {"x": {"field": "pH", "type": "quantitative"}, "y": {"field": "logIAP", "type": "quantitative"}}
            },
            {
              "data": {"name": "markers"},
              "transform": [{"filter": "datum.lake == 'Meadows' && datum.marker == 'Max IAP'"}],
              "mark": {"type": "point", "shape": "triangle-up", "size": 700, "filled": true, "color": "#77933C", "opacity": 1},
              "encoding": {"x": {"field": "pH", "type": "quantitative"}, "y": {"field": "logIAP", "type": "quantitative"}}
            },
            {
              "data": {"name": "keys"},
              "transform": [{"filter": "datum.lake == 'Meadows' && datum.marker == 'Min pH of precipitate'"}],
              "mark": {"type": "point", "shape": "diamond", "size": 320, "filled": false, "stroke": "#604A7B", "strokeWidth": 3, "opacity": 1},
              "encoding": {"x": {"field": "symbolPH", "type": "quantitative"}, "y": {"field": "symbolLogIAP", "type": "quantitative"}}
            },
            {
              "data": {"name": "keys"},
              "transform": [{"filter": "datum.lake == 'Meadows' && datum.marker == 'Max IAP'"}],
              "mark": {"type": "point", "shape": "triangle-up", "size": 270, "filled": true, "color": "#77933C", "opacity": 1},
              "encoding": {"x": {"field": "symbolPH", "type": "quantitative"}, "y": {"field": "symbolLogIAP", "type": "quantitative"}}
            },
            {
              "data": {"name": "keys"},
              "transform": [{"filter": "datum.lake == 'Meadows'"}],
              "mark": {"type": "text", "align": "center", "baseline": "alphabetic", "lineBreak": "\n", "lineHeight": 40, "font": "Lato", "fontSize": 29, "color": "#000000"},
              "encoding": {"x": {"field": "textPH", "type": "quantitative"}, "y": {"field": "textLogIAP", "type": "quantitative"}, "text": {"field": "label"}}
            }
          ]
        }
      ],
      "resolve": {"axis": {"x": "independent", "y": "independent"}}
    }
  ]
}
